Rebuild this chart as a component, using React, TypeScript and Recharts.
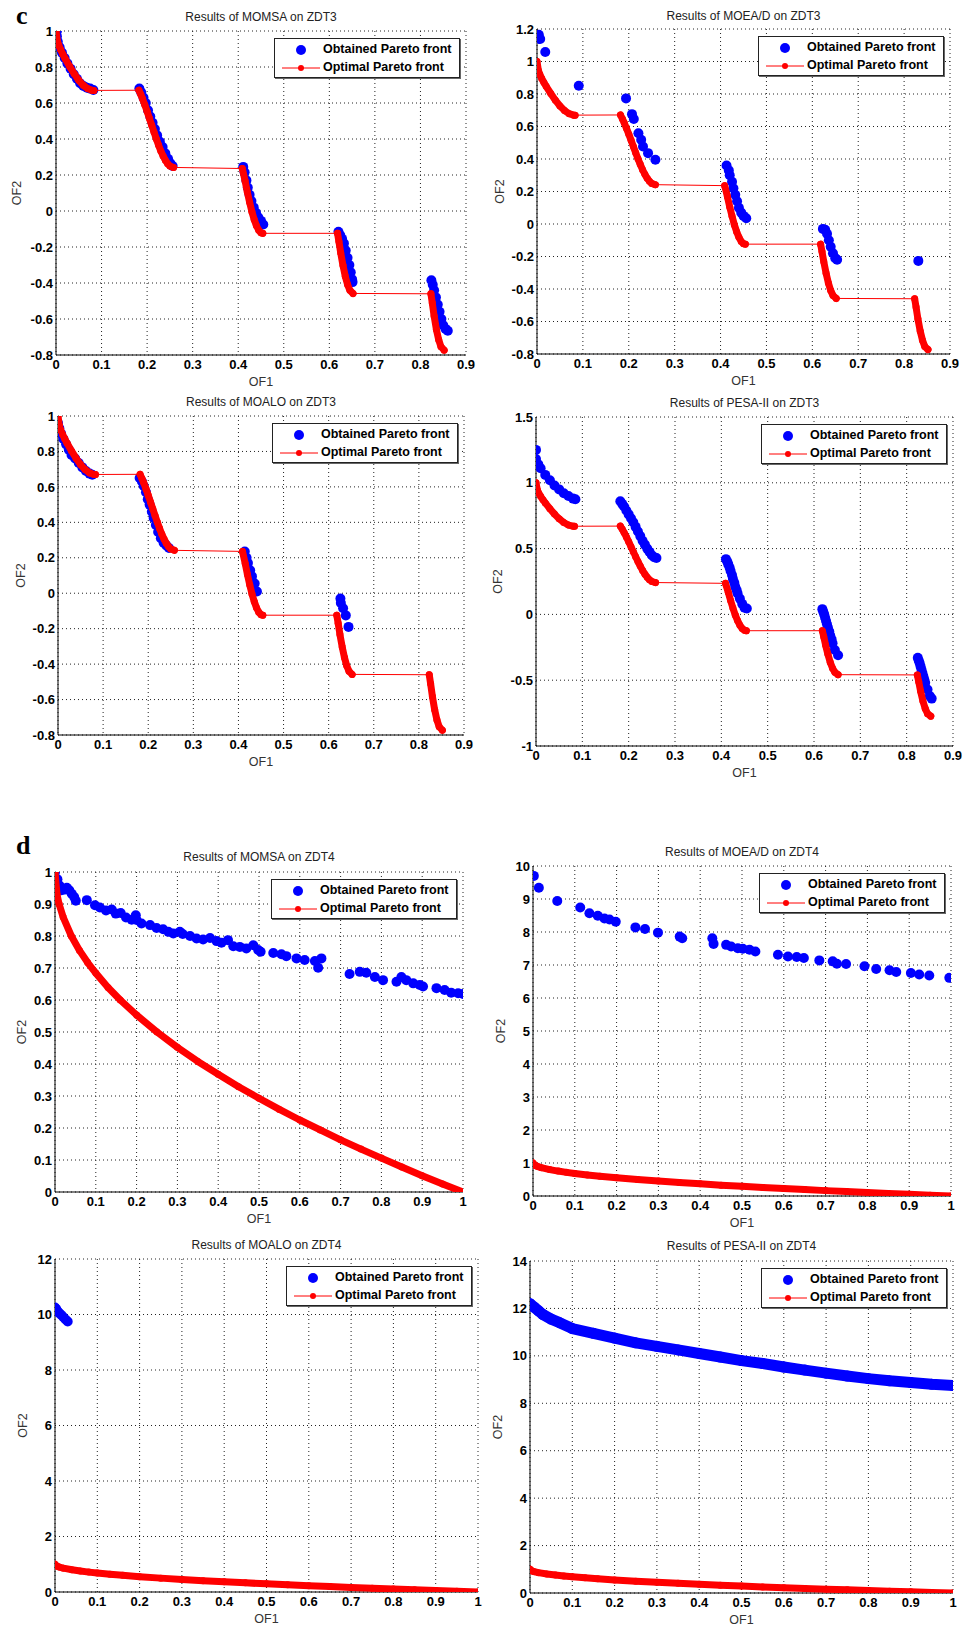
import React from "react"
import { ScatterChart, Scatter, XAxis, YAxis, CartesianGrid, Legend } from "recharts"

// ---- tick labels ----
const xTicksZdt3 = [0, 0.1, 0.2, 0.3, 0.4, 0.5, 0.6, 0.7, 0.8, 0.9]
const xTicksZdt4 = [0, 0.1, 0.2, 0.3, 0.4, 0.5, 0.6, 0.7, 0.8, 0.9, 1]
const yTicksMomsaZdt3 = [-0.8, -0.6, -0.4, -0.2, 0, 0.2, 0.4, 0.6, 0.8, 1]
const yTicksMoeadZdt3 = [-0.8, -0.6, -0.4, -0.2, 0, 0.2, 0.4, 0.6, 0.8, 1, 1.2]
const yTicksMoaloZdt3 = [-0.8, -0.6, -0.4, -0.2, 0, 0.2, 0.4, 0.6, 0.8, 1]
const yTicksPesaZdt3 = [-1, -0.5, 0, 0.5, 1, 1.5]
const yTicksMomsaZdt4 = [0, 0.1, 0.2, 0.3, 0.4, 0.5, 0.6, 0.7, 0.8, 0.9, 1]
const yTicksMoeadZdt4 = [0, 1, 2, 3, 4, 5, 6, 7, 8, 9, 10]
const yTicksMoaloZdt4 = [0, 2, 4, 6, 8, 10, 12]
const yTicksPesaZdt4 = [0, 2, 4, 6, 8, 10, 12, 14]

// ---- optimal Pareto fronts ----
const zdt3Seg1 = [[0, 1], [0.003, 0.945], [0.006, 0.921], [0.01, 0.897], [0.015, 0.871], [0.02, 0.847], [0.03, 0.803], [0.04, 0.762], [0.05, 0.726], [0.06, 0.698], [0.07, 0.679], [0.08, 0.67], [0.083, 0.67]]
const zdt3Seg2 = [[0.182, 0.671], [0.186, 0.648], [0.19, 0.623], [0.195, 0.589], [0.2, 0.553], [0.205, 0.515], [0.21, 0.477], [0.215, 0.439], [0.22, 0.402], [0.225, 0.367], [0.23, 0.334], [0.235, 0.306], [0.24, 0.282], [0.245, 0.263], [0.25, 0.25], [0.258, 0.242]]
const zdt3Seg3 = [[0.409, 0.236], [0.415, 0.168], [0.42, 0.105], [0.425, 0.048], [0.43, -0.004], [0.435, -0.047], [0.44, -0.082], [0.445, -0.107], [0.45, -0.121], [0.454, -0.124]]
const zdt3Seg4 = [[0.618, -0.124], [0.621, -0.169], [0.625, -0.233], [0.63, -0.303], [0.635, -0.363], [0.64, -0.409], [0.645, -0.44], [0.652, -0.458]]
const zdt3Seg5 = [[0.823, -0.46], [0.826, -0.511], [0.83, -0.583], [0.835, -0.658], [0.84, -0.715], [0.845, -0.754], [0.852, -0.773]]
const zdt4Optimal = [[0, 1], [0.005, 0.929], [0.01, 0.9], [0.02, 0.859], [0.04, 0.8], [0.06, 0.755], [0.08, 0.717], [0.1, 0.684], [0.13, 0.639], [0.16, 0.6], [0.2, 0.553], [0.25, 0.5], [0.3, 0.452], [0.35, 0.408], [0.4, 0.368], [0.45, 0.329], [0.5, 0.293], [0.55, 0.258], [0.6, 0.225], [0.65, 0.194], [0.7, 0.163], [0.75, 0.134], [0.8, 0.106], [0.85, 0.078], [0.9, 0.051], [0.95, 0.025], [1, 0]]

// ---- obtained Pareto fronts ----
const momsaZdt3 = [
  [0.002, 1.0], [0.002, 0.97], [0.004, 0.94], [0.008, 0.91], [0.013, 0.88], [0.019, 0.85], [0.025, 0.82], [0.032, 0.79], [0.039, 0.76], [0.046, 0.735], [0.053, 0.71], [0.06, 0.695], [0.068, 0.685], [0.075, 0.68], [0.082, 0.672],
  [0.183, 0.68], [0.187, 0.66], [0.192, 0.63], [0.197, 0.6], [0.202, 0.56], [0.207, 0.525], [0.212, 0.49], [0.217, 0.455], [0.222, 0.42], [0.228, 0.385], [0.234, 0.355], [0.24, 0.32], [0.246, 0.29], [0.251, 0.265], [0.256, 0.25],
  [0.411, 0.245], [0.414, 0.215], [0.418, 0.17], [0.421, 0.13], [0.425, 0.09], [0.429, 0.055], [0.434, 0.02], [0.439, -0.01], [0.444, -0.035], [0.45, -0.055], [0.455, -0.075],
  [0.62, -0.115], [0.624, -0.135], [0.628, -0.155], [0.632, -0.18], [0.636, -0.22], [0.64, -0.26], [0.644, -0.3], [0.647, -0.34], [0.65, -0.38], [0.651, -0.395],
  [0.824, -0.385], [0.827, -0.41], [0.83, -0.44], [0.834, -0.48], [0.838, -0.52], [0.842, -0.56], [0.846, -0.6], [0.85, -0.635], [0.855, -0.655], [0.86, -0.665],
]
const moeadZdt3 = [
  [0.004, 1.165], [0.007, 1.138], [0.018, 1.058], [0.091, 0.851],
  [0.194, 0.773], [0.207, 0.676], [0.211, 0.646], [0.221, 0.559], [0.227, 0.518], [0.231, 0.477], [0.242, 0.436], [0.258, 0.395],
  [0.413, 0.36], [0.418, 0.33], [0.42, 0.3], [0.425, 0.26], [0.428, 0.22], [0.432, 0.18], [0.436, 0.14], [0.44, 0.1], [0.445, 0.07], [0.45, 0.05], [0.456, 0.035],
  [0.623, -0.03], [0.628, -0.035], [0.632, -0.06], [0.636, -0.1], [0.64, -0.14], [0.645, -0.18], [0.65, -0.21], [0.654, -0.22],
  [0.831, -0.227],
]
const moaloZdt3 = [
  [0.0, 0.96], [0.003, 0.93], [0.007, 0.9], [0.012, 0.87], [0.018, 0.84], [0.024, 0.81], [0.03, 0.78], [0.038, 0.76], [0.046, 0.735], [0.054, 0.71], [0.062, 0.69], [0.07, 0.675], [0.076, 0.668],
  [0.181, 0.65], [0.186, 0.63], [0.19, 0.605], [0.195, 0.57], [0.199, 0.53], [0.203, 0.5], [0.208, 0.46], [0.212, 0.425], [0.217, 0.385], [0.222, 0.345], [0.228, 0.31], [0.234, 0.285], [0.24, 0.27], [0.246, 0.255],
  [0.414, 0.235], [0.418, 0.2], [0.421, 0.17], [0.426, 0.13], [0.43, 0.095], [0.436, 0.055], [0.441, 0.01],
  [0.626, -0.03], [0.627, -0.055], [0.632, -0.085], [0.638, -0.125], [0.644, -0.19],
]
const pesaZdt3 = [
  [0.0, 1.25], [0.0, 1.18], [0.005, 1.14], [0.01, 1.11], [0.02, 1.06], [0.03, 1.02], [0.04, 0.98], [0.05, 0.95], [0.06, 0.92], [0.07, 0.9], [0.08, 0.88], [0.085, 0.875],
  [0.182, 0.86], [0.186, 0.84], [0.19, 0.82], [0.195, 0.79], [0.2, 0.76], [0.205, 0.73], [0.21, 0.7], [0.215, 0.665], [0.22, 0.63], [0.225, 0.595], [0.23, 0.56], [0.235, 0.53], [0.24, 0.5], [0.245, 0.475], [0.25, 0.45], [0.255, 0.435], [0.26, 0.428],
  [0.41, 0.42], [0.413, 0.4], [0.415, 0.38], [0.418, 0.355], [0.42, 0.33], [0.423, 0.3], [0.425, 0.27], [0.428, 0.24], [0.43, 0.21], [0.433, 0.185], [0.435, 0.16], [0.44, 0.12], [0.445, 0.08], [0.45, 0.05], [0.455, 0.045],
  [0.618, 0.04], [0.62, 0.02], [0.622, 0.0], [0.624, -0.025], [0.626, -0.05], [0.628, -0.075], [0.63, -0.1], [0.633, -0.13], [0.635, -0.16], [0.638, -0.19], [0.64, -0.22], [0.645, -0.27], [0.652, -0.31],
  [0.824, -0.33], [0.826, -0.35], [0.828, -0.37], [0.83, -0.395], [0.832, -0.42], [0.834, -0.445], [0.836, -0.47], [0.838, -0.495], [0.84, -0.52], [0.845, -0.57], [0.85, -0.62], [0.854, -0.64],
]
const momsaZdt4 = [
  [0, 1.0], [0.006, 0.977], [0.011, 0.958], [0.016, 0.943], [0.024, 0.945], [0.029, 0.951], [0.035, 0.943], [0.041, 0.932], [0.047, 0.922], [0.051, 0.91],
  [0.078, 0.912], [0.098, 0.896], [0.11, 0.889], [0.125, 0.88], [0.139, 0.883], [0.149, 0.87], [0.161, 0.872], [0.174, 0.858], [0.188, 0.851], [0.198, 0.865], [0.2, 0.85],
  [0.212, 0.839], [0.233, 0.834], [0.249, 0.825], [0.265, 0.821], [0.278, 0.813], [0.29, 0.808], [0.306, 0.813], [0.313, 0.806], [0.331, 0.8], [0.347, 0.792],
  [0.363, 0.789], [0.38, 0.794], [0.396, 0.784], [0.408, 0.779], [0.424, 0.787], [0.437, 0.768], [0.453, 0.766], [0.469, 0.761], [0.486, 0.771], [0.498, 0.756], [0.504, 0.751],
  [0.535, 0.747], [0.555, 0.743], [0.567, 0.737], [0.592, 0.73], [0.612, 0.725], [0.637, 0.722], [0.645, 0.701], [0.653, 0.73],
  [0.722, 0.681], [0.747, 0.688], [0.763, 0.685], [0.784, 0.672], [0.804, 0.662], [0.837, 0.657], [0.849, 0.672], [0.861, 0.662], [0.878, 0.652], [0.894, 0.647], [0.902, 0.642],
  [0.935, 0.637], [0.955, 0.631], [0.971, 0.623], [0.988, 0.621], [1.0, 0.619],
]
const moeadZdt4 = [
  [0.002, 9.7], [0.014, 9.34], [0.058, 8.94], [0.113, 8.74], [0.135, 8.57], [0.155, 8.49], [0.171, 8.41], [0.183, 8.38], [0.198, 8.31],
  [0.245, 8.14], [0.268, 8.09], [0.299, 7.98], [0.351, 7.86], [0.357, 7.81], [0.429, 7.81], [0.432, 7.64], [0.462, 7.61], [0.474, 7.56], [0.49, 7.51],
  [0.502, 7.49], [0.518, 7.46], [0.532, 7.41], [0.586, 7.31], [0.61, 7.26], [0.631, 7.24], [0.648, 7.21], [0.685, 7.14], [0.717, 7.11], [0.727, 7.04],
  [0.749, 7.03], [0.793, 6.96], [0.821, 6.88], [0.853, 6.84], [0.869, 6.79], [0.904, 6.76], [0.924, 6.71], [0.948, 6.68], [0.996, 6.61],
]
const moaloZdt4 = [[0.0, 10.25], [0.003, 10.2], [0.006, 10.12], [0.01, 10.05], [0.015, 9.98], [0.02, 9.9], [0.025, 9.82], [0.03, 9.75]]
const pesaZdt4 = [
  [0, 12.2], [0.01, 12.05], [0.02, 11.9], [0.03, 11.75], [0.05, 11.55], [0.07, 11.4], [0.1, 11.15], [0.15, 10.95], [0.2, 10.75], [0.25, 10.55],
  [0.3, 10.4], [0.35, 10.25], [0.4, 10.1], [0.45, 9.95], [0.5, 9.8], [0.55, 9.68], [0.6, 9.53], [0.65, 9.4], [0.7, 9.27], [0.75, 9.15],
  [0.8, 9.04], [0.85, 8.95], [0.9, 8.88], [0.95, 8.8], [1.0, 8.75],
]

const toPts = (a: number[][]) => a.map(([x, y]) => ({ x, y }))

const BLUE = "#0000ff"
const RED = "#ff0000"
const SANS = '"Liberation Sans", Arial, sans-serif'

const panels = [
  { title: "Results of MOMSA on ZDT3", plot: [56, 31, 466, 355], titleY: 17, labelDx: 39, xTicks: xTicksZdt3, yTicks: yTicksMomsaZdt3, obtained: momsaZdt3, problem: "zdt3" },
  { title: "Results of MOEA/D on ZDT3", plot: [537, 29, 950, 354], titleY: 16, labelDx: 37, xTicks: xTicksZdt3, yTicks: yTicksMoeadZdt3, obtained: moeadZdt3, problem: "zdt3" },
  { title: "Results of MOALO on ZDT3", plot: [58, 416, 464, 735], titleY: 402, labelDx: 37, xTicks: xTicksZdt3, yTicks: yTicksMoaloZdt3, obtained: moaloZdt3, problem: "zdt3" },
  { title: "Results of PESA-II on ZDT3", plot: [536, 417, 953, 746], titleY: 403, labelDx: 38, xTicks: xTicksZdt3, yTicks: yTicksPesaZdt3, obtained: pesaZdt3, problem: "zdt3" },
  { title: "Results of MOMSA on ZDT4", plot: [55, 872, 463, 1192], titleY: 857, labelDx: 33, xTicks: xTicksZdt4, yTicks: yTicksMomsaZdt4, obtained: momsaZdt4, problem: "zdt4" },
  { title: "Results of MOEA/D on ZDT4", plot: [533, 866, 951, 1196], titleY: 852, labelDx: 32, xTicks: xTicksZdt4, yTicks: yTicksMoeadZdt4, obtained: moeadZdt4, problem: "zdt4" },
  { title: "Results of MOALO on ZDT4", plot: [55, 1259, 478, 1592], titleY: 1245, labelDx: 32, xTicks: xTicksZdt4, yTicks: yTicksMoaloZdt4, obtained: moaloZdt4, problem: "zdt4" },
  { title: "Results of PESA-II on ZDT4", plot: [530, 1261, 953, 1593], titleY: 1246, labelDx: 32, xTicks: xTicksZdt4, yTicks: yTicksPesaZdt4, obtained: pesaZdt4, problem: "zdt4", band: true },
]

const dot = (r: number, color: string) => (p: any) =>
  p.cx == null ? <g /> : <circle cx={p.cx} cy={p.cy} r={r} fill={color} />
const noDot = () => <g />

const tickStyle = { fontFamily: SANS, fontWeight: 700, fontSize: 13, fill: "#000" }
const labelStyle = { fontFamily: SANS, fontSize: 12.5, fill: "#333" }

function LegendBox() {
  return (
    <div
      style={{
        position: "relative", width: 186, height: 40, boxSizing: "border-box",
        border: "1px solid #222", boxShadow: "1px 1px 0 #666", background: "#fff",
        fontFamily: SANS, fontWeight: 700, fontSize: 12.5, lineHeight: "14px", color: "#000",
      }}
    >
      <svg width={50} height={40} style={{ position: "absolute", left: 0, top: 0 }}>
        <circle cx={26} cy={11} r={5} fill={BLUE} />
        <line x1={7} x2={45} y1={29} y2={29} stroke={RED} strokeWidth={1} />
        <circle cx={26} cy={29} r={3} fill={RED} />
      </svg>
      <div style={{ position: "absolute", left: 48, top: 3, whiteSpace: "nowrap" }}>Obtained Pareto front</div>
      <div style={{ position: "absolute", left: 48, top: 21, whiteSpace: "nowrap" }}>Optimal Pareto front</div>
    </div>
  )
}

function Panel({ cfg }: { cfg: any }) {
  const [pl, pt, pr, pb] = cfg.plot
  const boxL = pl - 50
  const boxT = pt - 30
  const W = pr - pl + 60
  const H = pb - pt + 66
  const xt = cfg.xTicks
  const yt = cfg.yTicks
  const segs = cfg.problem === "zdt3" ? [zdt3Seg1, zdt3Seg2, zdt3Seg3, zdt3Seg4, zdt3Seg5] : [zdt4Optimal]
  const allOpt = segs.flat()

  return (
    <>
      <div
        style={{
          position: "absolute", left: pl, width: pr - pl, top: cfg.titleY - 7, textAlign: "center",
          fontFamily: SANS, fontSize: 12, lineHeight: "14px", color: "#222", whiteSpace: "nowrap",
        }}
      >
        {cfg.title}
      </div>
      <div style={{ position: "absolute", left: boxL, top: boxT }}>
        <ScatterChart width={W} height={H} margin={{ top: 30, right: 10, bottom: 0, left: 0 }}>
          <CartesianGrid stroke="#222" strokeDasharray="1 3" />
          <XAxis
            type="number"
            dataKey="x"
            domain={[xt[0], xt[xt.length - 1]]}
            ticks={xt}
            interval={0}
            allowDataOverflow
            height={36}
            tickLine={false}
            tickSize={2}
            tickMargin={3}
            axisLine={{ stroke: "#000" }}
            tick={tickStyle}
            label={{ value: "OF1", position: "insideBottom", offset: 5, style: labelStyle }}
          />
          <YAxis
            type="number"
            dataKey="y"
            domain={[yt[0], yt[yt.length - 1]]}
            ticks={yt}
            interval={0}
            allowDataOverflow
            width={50}
            tickLine={false}
            tickSize={1}
            tickMargin={2}
            axisLine={{ stroke: "#000" }}
            tick={tickStyle}
            label={{ value: "OF2", angle: -90, position: "insideLeft", offset: 50 - cfg.labelDx, style: { ...labelStyle, textAnchor: "middle" } }}
          />
          <Legend
            layout="horizontal"
            verticalAlign="middle"
            align="center"
            wrapperStyle={{ left: pr - 6 - 186 - boxL, top: 37, width: 186, height: 40 }}
            content={() => <LegendBox />}
          />
          <Scatter
            data={toPts(cfg.obtained)}
            fill={BLUE}
            isAnimationActive={false}
            line={cfg.band ? { stroke: BLUE, strokeWidth: 11, strokeLinecap: "round", strokeLinejoin: "round" } : false}
            shape={dot(cfg.band ? 5.5 : 5, BLUE)}
          />
          {cfg.problem === "zdt3" && (
            <Scatter
              data={toPts(allOpt)}
              fill={RED}
              isAnimationActive={false}
              line={{ stroke: RED, strokeWidth: 1 }}
              shape={noDot}
            />
          )}
          {segs.map((s: number[][], i: number) => (
            <Scatter
              key={i}
              data={toPts(s)}
              fill={RED}
              isAnimationActive={false}
              line={{ stroke: RED, strokeWidth: 7, strokeLinecap: "round", strokeLinejoin: "round" }}
              shape={dot(3.5, RED)}
            />
          ))}
        </ScatterChart>
      </div>
    </>
  )
}

export default function App() {
  return (
    <div style={{ position: "absolute", left: 0, top: 0, width: 966, height: 1627, background: "#fff", overflow: "hidden" }}>
      <div style={{ position: "absolute", left: 16, top: 3, fontFamily: '"Liberation Serif", serif', fontWeight: 700, fontSize: 26, lineHeight: "26px" }}>c</div>
      <div style={{ position: "absolute", left: 16, top: 833, fontFamily: '"Liberation Serif", serif', fontWeight: 700, fontSize: 26, lineHeight: "26px" }}>d</div>
      {panels.map((p, i) => (
        <Panel key={i} cfg={p} />
      ))}
    </div>
  )
}
